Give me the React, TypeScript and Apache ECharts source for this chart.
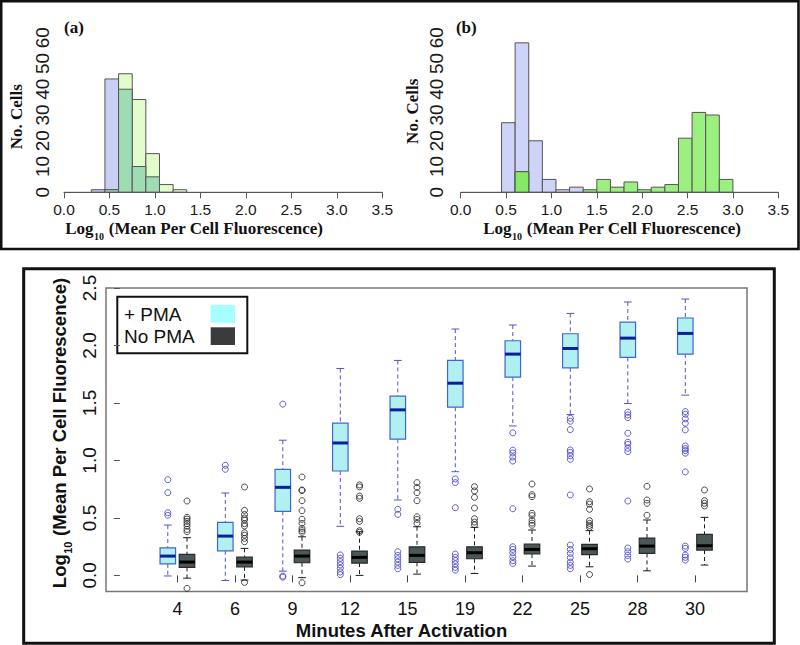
import React, { useEffect, useRef } from 'react';
import * as echarts from 'echarts';

// ---------- Histogram data (panels a and b) ----------
const histBreaksA = [0.3, 0.45, 0.6, 0.75, 0.9, 1.05, 1.2, 1.35];
const histUnstimA = [1, 44, 40, 10, 6, 0, 0];
const histStimA = [0, 1, 46, 36, 15, 3, 1];

const histBreaksB = [0.45, 0.6, 0.75, 0.9, 1.05, 1.2, 1.35, 1.5, 1.65, 1.8, 1.95, 2.1, 2.25, 2.4, 2.55, 2.7, 2.85, 3.0];
const histUnstimB = [27, 58, 20, 5, 1, 2, 0, 0, 0, 0, 0, 0, 0, 0, 0, 0, 0];
const histStimB = [0, 8, 0, 0, 0, 0, 1, 5, 2, 4, 1, 2, 3, 21, 31, 30, 5];

const histXTicks = [0, 0.5, 1.0, 1.5, 2.0, 2.5, 3.0, 3.5];

// ---------- Boxplot data ----------
const minutes = ['4', '6', '9', '12', '15', '19', '22', '25', '28', '30'];

const pmaLow = [-0.005, -0.044, 0.037, 0.427, 0.656, 0.902, 1.3, 1.399, 1.495, 1.568];
const pmaQ1 = [0.101, 0.214, 0.557, 0.908, 1.185, 1.463, 1.725, 1.806, 1.896, 1.925];
const pmaMedian = [0.168, 0.342, 0.766, 1.152, 1.44, 1.672, 1.925, 1.974, 2.064, 2.105];
const pmaQ3 = [0.24, 0.461, 0.923, 1.324, 1.559, 1.87, 2.041, 2.102, 2.204, 2.239];
const pmaHigh = [0.438, 0.717, 1.176, 1.8, 1.87, 2.143, 2.178, 2.279, 2.378, 2.404];
const pmaOutliers = [
  [0.833, 0.72, 0.545, 0.523],
  [0.958, 0.923],
  [1.49, -0.006, -0.015],
  [0.178, 0.149, 0.12, 0.091, 0.062, 0.03, 0.007],
  [0.575, 0.531, 0.206, 0.174, 0.145, 0.116, 0.087, 0.058],
  [0.839, 0.807, 0.589, 0.185, 0.157, 0.13, 0.1, 0.07, 0.046],
  [1.24, 1.089, 1.065, 1.03, 0.995, 0.58, 0.249, 0.226, 0.197, 0.162, 0.128, 0.104],
  [1.367, 1.341, 1.268, 1.091, 1.07, 1.04, 1.01, 0.7, 0.264, 0.226, 0.191, 0.154, 0.116, 0.087, 0.058],
  [1.42, 1.396, 1.373, 1.237, 1.158, 1.14, 1.106, 1.077, 0.647, 0.238, 0.206, 0.174, 0.142],
  [1.425, 1.402, 1.362, 1.324, 1.266, 1.126, 1.103, 1.086, 1.063, 0.9, 0.255, 0.235, 0.177, 0.157, 0.133],
];

const noPmaLow = [-0.024, -0.041, -0.02, 0.0, 0.011, 0.017, 0.081, 0.075, 0.04, 0.09];
const noPmaQ1 = [0.07, 0.075, 0.11, 0.107, 0.113, 0.145, 0.186, 0.18, 0.191, 0.22];
const noPmaMedian = [0.116, 0.116, 0.168, 0.157, 0.174, 0.197, 0.226, 0.232, 0.255, 0.258];
const noPmaQ3 = [0.183, 0.16, 0.22, 0.212, 0.249, 0.249, 0.273, 0.27, 0.325, 0.357];
const noPmaHigh = [0.328, 0.235, 0.336, 0.38, 0.423, 0.418, 0.395, 0.389, 0.482, 0.505];
const noPmaOutliers = [
  [-0.113, 0.647, 0.505, 0.49, 0.47, 0.45, 0.43, 0.4, 0.38],
  [-0.061, 0.769, 0.566, 0.53, 0.5, 0.482, 0.45, 0.43, 0.371, 0.35, 0.322, 0.293],
  [-0.064, 0.856, 0.743, 0.738, 0.65, 0.563, 0.488, 0.453, 0.41, 0.39, 0.375],
  [0.787, 0.77, 0.69, 0.67, 0.493, 0.47, 0.389, 0.375],
  [0.807, 0.766, 0.72, 0.65, 0.51, 0.488, 0.453],
  [0.772, 0.735, 0.679, 0.586, 0.493, 0.464, 0.44],
  [0.795, 0.702, 0.685, 0.54, 0.52, 0.48, 0.455, 0.436],
  [0.008, 0.752, 0.641, 0.62, 0.575, 0.476, 0.453, 0.435, 0.418],
  [0.775, 0.656, 0.627, 0.523],
  [0.743, 0.65, 0.627, 0.604],
];

const boxYTicks = [0, 0.5, 1.0, 1.5, 2.0, 2.5];

// ---------- helpers ----------
const SANS = 'Liberation Sans';
const SERIF = 'Liberation Serif';
const GROUP_OFFSET = 0.167;
const BOX_WIDTH = 0.27;

let measureCtx: CanvasRenderingContext2D | null = null;
function textWidth(text: string, family: string, size: number, weight: string) {
  if (!measureCtx) measureCtx = document.createElement('canvas').getContext('2d');
  if (!measureCtx) return text.length * size * 0.55;
  measureCtx.font = `${weight} ${size}px "${family}"`;
  return measureCtx.measureText(text).width;
}

function histData(breaks: number[], counts: number[]) {
  return counts.map((c, i) => [breaks[i], breaks[i + 1], c]);
}

function histRender(fill: string) {
  return (params: any, api: any) => {
    const c = api.value(2);
    if (!c) return { type: 'group', children: [] };
    const p0 = api.coord([api.value(0), c]);
    const p1 = api.coord([api.value(1), 0]);
    return {
      type: 'rect',
      shape: { x: p0[0], y: p0[1], width: p1[0] - p0[0], height: p1[1] - p0[1] },
      style: { fill, stroke: '#555555', lineWidth: 1 },
    };
  };
}

function histSeries(idx: number, breaks: number[], counts: number[], fill: string) {
  return {
    type: 'custom',
    xAxisIndex: idx,
    yAxisIndex: idx,
    renderItem: histRender(fill),
    encode: { x: [0, 1], y: 2 },
    data: histData(breaks, counts),
    silent: true,
  };
}

function boxRender(fill: string, border: string, whisker: string, median: string) {
  return (params: any, api: any) => {
    const x = api.value(0);
    const lo = api.coord([x, api.value(1)]);
    const q1 = api.coord([x, api.value(2)]);
    const md = api.coord([x, api.value(3)]);
    const q3 = api.coord([x, api.value(4)]);
    const hi = api.coord([x, api.value(5)]);
    const bw = api.size([BOX_WIDTH, 0])[0];
    const cx = lo[0];
    const cap = bw / 4;
    const dash = { stroke: whisker, lineWidth: 1, lineDash: [4, 3] };
    const solid = { stroke: whisker, lineWidth: 1 };
    return {
      type: 'group',
      children: [
        { type: 'line', shape: { x1: cx, y1: hi[1], x2: cx, y2: q3[1] }, style: dash },
        { type: 'line', shape: { x1: cx, y1: q1[1], x2: cx, y2: lo[1] }, style: dash },
        { type: 'line', shape: { x1: cx - cap, y1: hi[1], x2: cx + cap, y2: hi[1] }, style: solid },
        { type: 'line', shape: { x1: cx - cap, y1: lo[1], x2: cx + cap, y2: lo[1] }, style: solid },
        {
          type: 'rect',
          shape: { x: cx - bw / 2, y: q3[1], width: bw, height: q1[1] - q3[1] },
          style: { fill, stroke: border, lineWidth: 1.2 },
        },
        {
          type: 'line',
          shape: { x1: cx - bw / 2, y1: md[1], x2: cx + bw / 2, y2: md[1] },
          style: { stroke: median, lineWidth: 3 },
        },
      ],
    };
  };
}

const positions = minutes.map((_, i) => i + 1);

function boxData(offset: number, lo: number[], q1: number[], md: number[], q3: number[], hi: number[]) {
  return positions.map((p, i) => [p + offset, lo[i], q1[i], md[i], q3[i], hi[i]]);
}

function outlierData(offset: number, outs: number[][]) {
  const d: number[][] = [];
  outs.forEach((arr, i) => arr.forEach((v) => d.push([positions[i] + offset, v])));
  return d;
}

function histXAxis(gridIndex: number) {
  return {
    gridIndex,
    type: 'value',
    min: 0,
    max: 3.5,
    interval: 0.5,
    offset: 6,
    axisLine: { show: true, lineStyle: { color: '#555555', width: 1 } },
    axisTick: { show: true, length: 6, lineStyle: { color: '#555555' } },
    axisLabel: {
      formatter: (v: number) => v.toFixed(1),
      fontFamily: SANS,
      fontSize: 15.5,
      lineHeight: 12,
      color: '#1a1a1a',
      margin: 5,
      showMinLabel: true,
      showMaxLabel: true,
    },
    splitLine: { show: false },
  };
}

function histYAxis(gridIndex: number, margin: number) {
  return {
    gridIndex,
    type: 'value',
    min: 0,
    max: 60,
    interval: 10,
    axisLine: { show: false },
    axisTick: { show: false },
    axisLabel: { rotate: 90, fontFamily: SANS, fontSize: 19, color: '#1a1a1a', margin },
    splitLine: { show: false },
  };
}

// "Log" + subscript "10" + " (Mean Per Cell Fluorescence)", centred on (x, y)
function logTitle(x: number, y: number, family: string, size: number, rotation: number) {
  const main1 = 'Log';
  const sub = '10';
  const main2 = ' (Mean Per Cell Fluorescence)';
  const subSize = Math.round(size * 0.6);
  const w1 = textWidth(main1, family, size, 'bold');
  const ws = textWidth(sub, family, subSize, 'bold');
  const w2 = textWidth(main2, family, size, 'bold');
  const x0 = -(w1 + ws + w2) / 2;
  const base = { fontFamily: family, fontWeight: 'bold', fill: '#111111', align: 'left', verticalAlign: 'middle' };
  return {
    type: 'group',
    x,
    y,
    rotation,
    z: 50,
    children: [
      { type: 'text', x: x0, y: 0, style: { ...base, text: main1, fontSize: size, lineHeight: Math.round(size * 0.8) } },
      {
        type: 'text',
        x: x0 + w1 + 0.5,
        y: size * 0.48,
        style: { ...base, text: sub, fontSize: subSize, lineHeight: Math.round(subSize * 0.8) },
      },
      { type: 'text', x: x0 + w1 + ws + 1, y: 0, style: { ...base, text: main2, fontSize: size, lineHeight: Math.round(size * 0.8) } },
    ],
  };
}

function plainText(text: string, x: number, y: number, family: string, size: number, rotation = 0, weight = 'bold') {
  return {
    type: 'text',
    x,
    y,
    rotation,
    z: 50,
    style: {
      text,
      align: 'center',
      verticalAlign: 'middle',
      fontFamily: family,
      fontWeight: weight,
      fontSize: size,
      fill: '#111111',
    },
  };
}

const overlapA = histUnstimA.map((v, i) => Math.min(v, histStimA[i]));
const overlapB = histUnstimB.map((v, i) => Math.min(v, histStimB[i]));

function buildOption(): any {
  return {
    animation: false,
    backgroundColor: '#ffffff',
    grid: [
      { left: 64, top: 37.7, width: 318.3, height: 154.6 },
      { left: 460.7, top: 37.7, width: 317.6, height: 154.6 },
      {
        left: 106,
        top: 288,
        width: 641,
        height: 303.5,
        show: true,
        borderColor: '#777777',
        borderWidth: 1.5,
        backgroundColor: 'rgba(0,0,0,0)',
      },
    ],
    xAxis: [
      histXAxis(0),
      histXAxis(1),
      {
        gridIndex: 2,
        type: 'value',
        min: -0.242,
        max: 10.906,
        axisLine: { show: false },
        axisTick: { show: true, length: 7, customValues: positions, lineStyle: { color: '#444444' } },
        axisLabel: {
          customValues: positions,
          formatter: (v: number) => minutes[Math.round(v) - 1] ?? '',
          fontFamily: SANS,
          fontSize: 18,
          color: '#111111',
          margin: 8.3,
        },
        splitLine: { show: false },
      },
    ],
    yAxis: [
      histYAxis(0, 12.5),
      histYAxis(1, 15),
      {
        gridIndex: 2,
        type: 'value',
        min: -0.14,
        max: 2.5,
        axisLine: { show: false },
        axisTick: { show: true, length: 6, customValues: boxYTicks, lineStyle: { color: '#555555' } },
        axisLabel: {
          customValues: boxYTicks,
          formatter: (v: number) => v.toFixed(1),
          rotate: 90,
          fontFamily: SANS,
          fontSize: 19,
          color: '#111111',
          margin: 7.3,
        },
        splitLine: { show: false },
      },
    ],
    series: [
      // panel (a)
      histSeries(0, histBreaksA, histUnstimA, '#c9cff5'),
      histSeries(0, histBreaksA, histStimA, '#e2fccb'),
      histSeries(0, histBreaksA, overlapA, '#9edcb4'),
      {
        type: 'line',
        xAxisIndex: 0,
        yAxisIndex: 0,
        data: [[histXTicks[0], 0], [histXTicks[histXTicks.length - 1], 0]],
        symbol: 'none',
        lineStyle: { color: '#555555', width: 1 },
        silent: true,
      },
      // panel (b)
      histSeries(1, histBreaksB, histUnstimB, '#cdd4f7'),
      histSeries(1, histBreaksB, histStimB, '#9cf07f'),
      histSeries(1, histBreaksB, overlapB, '#84ea63'),
      {
        type: 'line',
        xAxisIndex: 1,
        yAxisIndex: 1,
        data: [[histXTicks[0], 0], [histXTicks[histXTicks.length - 1], 0]],
        symbol: 'none',
        lineStyle: { color: '#555555', width: 1 },
        silent: true,
      },
      // boxplots
      {
        name: '+ PMA',
        type: 'custom',
        xAxisIndex: 2,
        yAxisIndex: 2,
        renderItem: boxRender('#b0f0f0', '#3f66d2', '#5353c4', '#0b1e9e'),
        encode: { x: 0, y: [1, 2, 3, 4, 5] },
        data: boxData(-GROUP_OFFSET, pmaLow, pmaQ1, pmaMedian, pmaQ3, pmaHigh),
        silent: true,
      },
      {
        name: 'No PMA',
        type: 'custom',
        xAxisIndex: 2,
        yAxisIndex: 2,
        renderItem: boxRender('#4b5858', '#2a2a2a', '#1a1a1a', '#000000'),
        encode: { x: 0, y: [1, 2, 3, 4, 5] },
        data: boxData(GROUP_OFFSET, noPmaLow, noPmaQ1, noPmaMedian, noPmaQ3, noPmaHigh),
        silent: true,
      },
      {
        type: 'scatter',
        xAxisIndex: 2,
        yAxisIndex: 2,
        symbol: 'circle',
        symbolSize: 6,
        itemStyle: { color: 'rgba(0,0,0,0)', borderColor: '#3838c8', borderWidth: 1 },
        data: outlierData(-GROUP_OFFSET, pmaOutliers),
        silent: true,
        z: 5,
      },
      {
        type: 'scatter',
        xAxisIndex: 2,
        yAxisIndex: 2,
        symbol: 'circle',
        symbolSize: 6,
        itemStyle: { color: 'rgba(0,0,0,0)', borderColor: '#222222', borderWidth: 1 },
        data: outlierData(GROUP_OFFSET, noPmaOutliers),
        silent: true,
        z: 5,
      },
    ],
    graphic: [
      // frames
      {
        type: 'rect',
        z: 40,
        shape: { x: 1.2, y: 1.2, width: 797.3, height: 247.8 },
        style: { fill: 'none', stroke: '#111111', lineWidth: 2.6 },
      },
      {
        type: 'rect',
        z: 40,
        shape: { x: 23.7, y: 268.7, width: 750.6, height: 374.6 },
        style: { fill: 'none', stroke: '#111111', lineWidth: 3 },
      },
      // panel labels
      plainText('(a)', 74, 27.5, SERIF, 17),
      plainText('(b)', 466.3, 27.5, SERIF, 17),
      plainText('No. Cells', 16.7, 116.7, SERIF, 17, Math.PI / 2),
      plainText('No. Cells', 412.5, 111.3, SERIF, 17, Math.PI / 2),
      logTitle(193.8, 228, SERIF, 17, 0),
      logTitle(611.7, 228, SERIF, 17, 0),
      // bottom chart titles
      plainText('Minutes After Activation', 401.5, 630, SANS, 18.5),
      logTitle(59, 433.5, SANS, 18.5, Math.PI / 2),
      // legend
      {
        type: 'group',
        z: 60,
        children: [
          {
            type: 'rect',
            shape: { x: 117.3, y: 296.7, width: 130, height: 56.6 },
            style: { fill: '#ffffff', stroke: '#111111', lineWidth: 2 },
          },
          {
            type: 'text',
            x: 124,
            y: 314,
            style: { text: '+ PMA', fontFamily: SANS, fontSize: 19, fill: '#111111', align: 'left', verticalAlign: 'middle' },
          },
          {
            type: 'text',
            x: 124,
            y: 336.7,
            style: { text: 'No PMA', fontFamily: SANS, fontSize: 19, fill: '#111111', align: 'left', verticalAlign: 'middle' },
          },
          {
            type: 'rect',
            shape: { x: 210.7, y: 305, width: 24.3, height: 17.7 },
            style: { fill: '#a6ffff' },
          },
          {
            type: 'rect',
            shape: { x: 210.7, y: 327.3, width: 24.3, height: 17.7 },
            style: { fill: '#3b3b3b' },
          },
        ],
      },
    ],
  };
}

export default function App() {
  const ref = useRef<HTMLDivElement>(null);
  useEffect(() => {
    document.body.style.margin = '0';
    const chart = echarts.init(ref.current as HTMLDivElement, null, { renderer: 'svg' });
    chart.setOption(buildOption());
    return () => {
      chart.dispose();
    };
  }, []);
  return <div ref={ref} style={{ width: 800, height: 645, position: 'absolute', left: 0, top: 0 }} />;
}
